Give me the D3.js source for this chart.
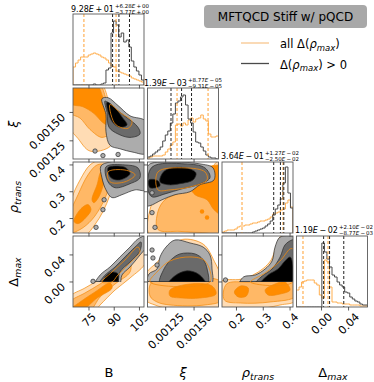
<!DOCTYPE html>
<html><head><meta charset="utf-8">
<style>body{margin:0;background:#fff}svg{display:block;font-family:"DejaVu Sans",sans-serif}</style>
</head><body>
<svg width="374" height="382"></svg>
<script src="https://cdn.jsdelivr.net/npm/d3@7"></script>
<script>
// ---- data ----
var params = ["B", "xi", "rho", "delta"];
var domains = {B: [65.5, 107.7], xi: [0.00109, 0.001715], rho: [0.146, 0.411], delta: [-0.037, 0.068]};
var tickVals = {B: [75, 90, 105], xi: [0.00125, 0.0015], rho: [0.2, 0.3, 0.4], delta: [0, 0.04]};
var tickFmt = {B: d3.format("d"), xi: d3.format(".5f"), rho: d3.format(".1f"), delta: d3.format(".2f")};

// median, +err, -err of the Delta>0 sample (shown as titles)
var titleVals = {B: [92.8, 6.28, 3.77], xi: [1.39e-3, 8.77e-5, 9.31e-5], rho: [0.364, 0.0127, 0.025], delta: [0.0119, 0.021, 0.00877]};
// quantile lines of the full sample
var qAll = {B: [72.0, 91.1], xi: [0.00135, 0.001623], rho: [0.2207, 0.3737], delta: [-0.0274, 0.0096]};

// histogram counts, 28 equal bins over each domain
var histAll = {
  B: [18,22,25,28,28,28,30,31,32,31,30,28,27,25,22,19,18,14,13,12,11,10,9,7,6,5,4,3],
  xi: [1,2,3,3,3,3,4,7,10,14,17,34,35,33,36,34,39,41,37,40,41,44,40,38,25,22,22,23],
  rho: [1,2,3,3,3,4,6,7,7,8,8,9,10,10,11,12,12,13,14,16,19,20,21,23,24,30,33,26],
  delta: [17,20,25,26,27,27,27,24,22,12,9,47,45,20,5,5,4,4,3,3,3,2,2,2,2,1,1,1]
};
var histPos = {
  B: [0,0,0,0,0,0,0,0,1,0,0,1,2,15,17,52,64,60,48,52,43,45,38,24,18,14,10,5],
  xi: [2,3,5,7,9,12,18,24,28,36,45,56,58,62,64,54,40,36,27,17,16,12,8,4,2,1,1,0],
  rho: [0,0,0,0,0,0,0,0,0,0,0,0,1,2,3,4,5,7,9,12,18,24,28,34,50,66,40,25],
  delta: [0,0,0,0,0,0,0,0,0,0,64,55,48,40,32,30,25,22,20,15,14,10,8,6,5,3,2,2]
};

// 2D contour levels (outer -> inner), vertices in data units
var allB_xi = [
  [[[63.7,0.00175],[82.1,0.00175],[86.3,0.00162],[89.3,0.00146],[89.9,0.00131],[87.5,0.00120],[75.6,0.00116],[68.5,0.00127],[63.7,0.00137]]],
  [[[63.7,0.00175],[80.9,0.00175],[85.1,0.00162],[88.1,0.00144],[87.5,0.00132],[82.7,0.00128],[75.6,0.00135],[69.7,0.00145],[63.7,0.00150]]],
  [[[63.7,0.00175],[79.2,0.00175],[83.3,0.00163],[86.9,0.00144],[87.5,0.00138],[83.3,0.00141],[78.0,0.00149],[71.4,0.00155],[63.7,0.00158]]]
];
var posB_xi = [
  [[[82.7,0.00162],[86.3,0.00163],[92.3,0.00156],[99.4,0.00147],[108.9,0.00142],[108.9,0.00114],[101.2,0.00115],[93.4,0.00118],[87.5,0.00121],[85.1,0.00133],[85.1,0.00148]]],
  [[[84.5,0.00160],[89.9,0.00154],[97.0,0.00146],[104.1,0.00137],[105.3,0.00131],[99.4,0.00128],[92.3,0.00131],[86.9,0.00137],[85.7,0.00150]]],
  [[[85.7,0.00159],[90.5,0.00154],[94.6,0.00146],[97.6,0.00139],[93.4,0.00137],[89.3,0.00141],[86.9,0.00148]]]
];
var lineB_xi = [[87.5,0.00157],[93.4,0.0015],[100.6,0.00142],[98.2,0.00136],[91.1,0.00139],[88.1,0.00148]];
var dotsB_xi = [[78.6,0.00116],[83.3,0.00112],[92.3,0.00113]];

var allB_rho = [
  [[[63.7,0.137],[72.6,0.137],[78.6,0.178],[83.3,0.226],[87.5,0.289],[89.9,0.352],[88.7,0.407],[81.6,0.418],[75.6,0.40],[69.7,0.344],[64.9,0.278],[63.7,0.233]]],
  [[[63.7,0.148],[69.7,0.159],[76.8,0.196],[82.7,0.252],[86.3,0.307],[87.5,0.363],[84.5,0.40],[79.8,0.40],[74.4,0.363],[68.5,0.289],[63.7,0.215]]],
  [[[66.1,0.189],[69.7,0.233],[74.4,0.252],[76.2,0.233],[73.2,0.204],[68.5,0.181]],
   [[76.8,0.270],[79.8,0.326],[82.1,0.374],[84.5,0.381],[83.9,0.337],[80.9,0.281],[77.9,0.259]]]
];
var posB_rho = [
  [[[82.1,0.396],[87.5,0.411],[108.9,0.418],[108.9,0.307],[102.4,0.307],[94.6,0.289],[88.7,0.278],[85.1,0.307],[82.7,0.352]]],
  [[[85.1,0.393],[96.4,0.40],[104.1,0.389],[105.3,0.352],[99.4,0.330],[90.5,0.315],[86.3,0.337]]],
  [[[86.3,0.389],[92.3,0.396],[97.0,0.389],[99.4,0.367],[93.4,0.344],[88.1,0.352]]]
];
var lineB_rho = [[86.3,0.374],[96.4,0.381],[102.4,0.363],[96.4,0.337],[87.5,0.337]];
var dotsB_rho = [[83.3,0.233],[79.2,0.167],[84.0,0.270]];

var allB_delta = [
  [[[63.7,-0.0414],[63.7,-0.022],[72.6,-0.0089],[81.6,0.0044],[90.5,0.0207],[99.4,0.0399],[108.9,0.0621],[108.9,0.0296],[99.4,0.0059],[90.5,-0.0119],[81.6,-0.034],[78.6,-0.0414]]],
  [[[63.7,-0.0414],[63.7,-0.0296],[72.6,-0.0163],[81.6,-0.0030],[90.5,0.0133],[99.4,0.0296],[99.4,0.0148],[90.5,-0.0030],[81.6,-0.0222],[75.6,-0.0414]]],
  [[[63.7,-0.0414],[69.7,-0.0296],[78.6,-0.0148],[87.5,-0.0015],[88.7,-0.0089],[79.8,-0.0237],[70.9,-0.0414]]]
];
var posB_delta = [
  [[[78.6,-0.004],[81.6,0.0103],[87.5,0.0222],[93.4,0.037],[99.4,0.0517],[104.1,0.0636],[108.9,0.068],[108.9,0.0517],[105.3,0.0399],[99.4,0.0222],[94.6,0.0103],[93.0,-0.004]]],
  [[[81.0,-0.004],[84.0,0.0088],[90.5,0.0222],[96.4,0.037],[102.4,0.0517],[105.9,0.0591],[105.3,0.0458],[99.4,0.0296],[93.4,0.0148],[91.5,-0.004]]],
  [[[83.0,-0.004],[85.1,0.0088],[88.7,0.0148],[92.3,0.0118],[91.3,-0.004]]]
];
var lineB_delta = [[82.7,0.0],[88.7,0.0148],[96.4,0.0325],[104.1,0.0517],[105.3,0.0443],[98.2,0.0251],[91.7,0.0088],[88.7,0.0]];
var dotsB_delta = [[77.4,0.001]];

var allXi_rho = [
  [[[0.001112,0.137],[0.001112,0.233],[0.001165,0.278],[0.001332,0.315],[0.001552,0.352],[0.001746,0.418],[0.001746,0.137]]],
  [[[0.001182,0.159],[0.001182,0.226],[0.001244,0.270],[0.001376,0.296],[0.001552,0.330],[0.001746,0.381],[0.001746,0.152],[0.001552,0.148],[0.001376,0.152]]],
  [[[0.001552,0.381],[0.00171,0.40],[0.001746,0.40],[0.001746,0.215],[0.001675,0.233],[0.001614,0.270],[0.001508,0.289],[0.001464,0.322],[0.001552,0.337]]]
];
var posXi_rho = [
  [[[0.001112,0.404],[0.001332,0.411],[0.001552,0.404],[0.001667,0.389],[0.001675,0.344],[0.001552,0.326],[0.001464,0.300],[0.001332,0.289],[0.001218,0.270],[0.001112,0.248],[0.001077,0.248],[0.001077,0.381]]],
  [[[0.00113,0.392],[0.00142,0.404],[0.001596,0.389],[0.00164,0.352],[0.001535,0.326],[0.001394,0.311],[0.001244,0.292],[0.00113,0.281],[0.001094,0.307]]],
  [[[0.00127,0.385],[0.001429,0.389],[0.001517,0.37],[0.001491,0.344],[0.001376,0.33],[0.00127,0.326],[0.0012,0.337],[0.001218,0.367]],
   [[0.001103,0.344],[0.001182,0.341],[0.0012,0.322],[0.001112,0.315]]]
];
var lineXi_rho = [[0.001182,0.374],[0.00142,0.389],[0.001596,0.374],[0.001614,0.344],[0.001464,0.318],[0.001288,0.307],[0.001182,0.307]];
var dotsXi_rho = [[0.00113,0.296],[0.00113,0.222],[0.001156,0.167]];
var spotsXi_rho = [[0.00157,0.226],[0.001614,0.204]];

var allXi_delta = [
  [[[0.001077,-0.0267],[0.001077,0.012],[0.00118,0.03],[0.00128,0.05],[0.0014,0.063],[0.00158,0.056],[0.00168,0.03],[0.001746,0.0029],[0.001746,-0.034],[0.001552,-0.040],[0.001288,-0.040],[0.001156,-0.034]]],
  [[[0.001112,-0.0207],[0.00113,0.0],[0.001746,0.0],[0.001746,-0.0267],[0.001596,-0.034],[0.001288,-0.034],[0.001174,-0.0296]]],
  [[[0.001288,-0.0119],[0.001464,-0.003],[0.001658,-0.0059],[0.001693,-0.0178],[0.001552,-0.0237],[0.001394,-0.0237],[0.001288,-0.0207]]]
];
var posXi_delta = [
  [[[0.001094,-0.004],[0.001103,0.0118],[0.001174,0.0192],[0.0012,0.037],[0.001253,0.0517],[0.001332,0.0621],[0.001464,0.0577],[0.001579,0.0517],[0.00164,0.0399],[0.001658,0.0192],[0.001649,-0.004]]],
  [[[0.0012,-0.004],[0.001235,0.0192],[0.001298,0.033],[0.001376,0.0415],[0.001508,0.0415],[0.00158,0.033],[0.001615,0.0192],[0.001615,-0.004]]],
  [[[0.00127,-0.004],[0.001335,0.0095],[0.001438,0.0165],[0.00154,0.0115],[0.001605,-0.004]]]
];
var lineXi_delta = [[0.001112,0.0],[0.001182,0.0163],[0.001288,0.0311],[0.001464,0.037],[0.001596,0.0311],[0.00164,0.0]];
var dotsXi_delta = [[0.001138,0.0355],[0.001174,0.0251],[0.00113,0.0473]];

var allRho_delta = [
  [[[0.140,-0.0414],[0.140,0.0],[0.215,0.004],[0.26,0.01],[0.30,0.02],[0.33,0.033],[0.35,0.055],[0.37,0.07],[0.422,0.07],[0.422,-0.0267],[0.363,-0.034],[0.252,-0.0414]]],
  [[[0.155,-0.0267],[0.163,-0.003],[0.252,0.0],[0.363,0.0029],[0.422,0.0059],[0.422,-0.0207],[0.326,-0.0296],[0.215,-0.0311]]],
  [[[0.192,-0.0148],[0.215,-0.0059],[0.244,-0.0089],[0.237,-0.0207],[0.207,-0.0222]],
   [[0.307,-0.0119],[0.344,-0.003],[0.381,0.0],[0.400,-0.0119],[0.363,-0.0178],[0.318,-0.0193]]]
];
var posRho_delta = [
  [[[0.212,-0.004],[0.226,0.0074],[0.270,0.0103],[0.307,0.0192],[0.333,0.0311],[0.344,0.0517],[0.363,0.0665],[0.411,0.068],[0.422,0.068],[0.422,-0.004]]],
  [[[0.268,-0.004],[0.296,0.0088],[0.333,0.0192],[0.363,0.037],[0.381,0.0547],[0.407,0.0621],[0.422,0.0621],[0.422,-0.004]]],
  [[[0.287,-0.004],[0.318,0.0103],[0.355,0.0192],[0.381,0.0311],[0.400,0.037],[0.411,0.0251],[0.413,-0.004]]]
];
var lineRho_delta = [[0.252,0.0],[0.307,0.0133],[0.363,0.0311],[0.400,0.0488],[0.411,0.0488],[0.411,0.0]];
var dotsRho_delta = [[0.159,0.003]];

var panels2d = [
  {r: 1, c: 0, all: allB_xi, pos: posB_xi, line: lineB_xi, dots: dotsB_xi},
  {r: 2, c: 0, all: allB_rho, pos: posB_rho, line: lineB_rho, dots: dotsB_rho},
  {r: 3, c: 0, all: allB_delta, pos: posB_delta, line: lineB_delta, dots: dotsB_delta},
  {r: 2, c: 1, all: allXi_rho, pos: posXi_rho, line: lineXi_rho, dots: dotsXi_rho, spots: spotsXi_rho},
  {r: 3, c: 1, all: allXi_delta, pos: posXi_delta, line: lineXi_delta, dots: dotsXi_delta},
  {r: 3, c: 2, all: allRho_delta, pos: posRho_delta, line: lineRho_delta, dots: dotsRho_delta}
];

// ---- layout ----
var svg = d3.select("svg");
var size = 71, colX = [73, 147.5, 222, 296.5], rowY = [14, 88, 162, 236];
var allFill = ["#ffdcb4", "#ffb866", "#ff8c00"], posFill = ["#acacac", "#6a6a6a", "#000000"];
var orange = "#f28a0c", histOrange = "#ffae4f", histGray = "#4a4a4a";

var x = {}, y = {};
params.forEach(function(p, i) {
  x[p] = d3.scaleLinear().domain(domains[p]).range([colX[i], colX[i] + size]);
  y[p] = d3.scaleLinear().domain(domains[p]).range([rowY[i] + size, rowY[i]]);
});

var defs = svg.append("defs");
function clipRect(id, x0, y0, w, h) {
  defs.append("clipPath").attr("id", id).append("rect")
    .attr("x", x0).attr("y", y0).attr("width", w).attr("height", h);
  return "url(#" + id + ")";
}
function clipFor(r, c) { return clipRect("clip" + r + c, colX[c], rowY[r], size, size); }

// ---- 2D panels ----
panels2d.forEach(function(pn) {
  var xs = x[params[pn.c]], ys = y[params[pn.r]];
  var line = d3.line().x(function(d) { return xs(d[0]); }).y(function(d) { return ys(d[1]); })
    .curve(d3.curveCatmullRomClosed.alpha(0.5));
  var g = svg.append("g").attr("clip-path", clipFor(pn.r, pn.c));
  pn.all.forEach(function(level, k) {
    level.forEach(function(poly) {
      g.append("path").attr("d", line(poly)).attr("fill", allFill[k])
        .attr("stroke", orange).attr("stroke-width", 0.7);
    });
  });
  (pn.spots || []).forEach(function(d) {
    g.append("circle").attr("cx", xs(d[0])).attr("cy", ys(d[1])).attr("r", 2.2).attr("fill", allFill[2]);
  });
  // the Delta>0 sample stops at Delta = 0
  var gp = g;
  if (params[pn.r] === "delta") {
    gp = g.append("g").attr("clip-path",
      clipRect("pos" + pn.r + pn.c, colX[pn.c], rowY[pn.r], size, ys(0) - rowY[pn.r]));
  }
  pn.pos.forEach(function(level, k) {
    level.forEach(function(poly) {
      gp.append("path").attr("d", line(poly)).attr("fill", posFill[k])
        .attr("stroke", "#2a2a2a").attr("stroke-width", 0.7);
    });
  });
  if (params[pn.r] === "delta") {
    gp.append("line").attr("x1", xs(pn.pos[0][0][0][0])).attr("x2", xs(pn.pos[0][0][pn.pos[0][0].length - 1][0]))
      .attr("y1", ys(0) - 0.4).attr("y2", ys(0) - 0.4).attr("stroke", "#2a2a2a").attr("stroke-width", 0.8);
  }
  g.append("path").attr("d", line(pn.line)).attr("fill", "none")
    .attr("stroke", orange).attr("stroke-width", 0.8);
  pn.dots.forEach(function(d) {
    g.append("circle").attr("cx", xs(d[0])).attr("cy", ys(d[1])).attr("r", 2.2)
      .attr("fill", posFill[0]).attr("stroke", "#2a2a2a").attr("stroke-width", 0.7);
  });
});

// ---- histograms ----
params.forEach(function(p, i) {
  var xs = x[p];
  var hy = d3.scaleLinear().domain([0, 71]).range([rowY[i] + size, rowY[i]]);
  var g = svg.append("g").attr("clip-path", clipFor(i, i));
  function step(counts) {
    var d0 = domains[p][0], w = (domains[p][1] - d0) / counts.length, pts = [[d0, 0]];
    counts.forEach(function(c, k) { pts.push([d0 + k * w, c]); pts.push([d0 + (k + 1) * w, c]); });
    pts.push([domains[p][1], 0]);
    return d3.line().x(function(d) { return xs(d[0]); }).y(function(d) { return hy(d[1]); })(pts);
  }
  g.append("path").attr("d", step(histAll[p])).attr("fill", "none").attr("stroke", histOrange).attr("stroke-width", 1);
  g.append("path").attr("d", step(histPos[p])).attr("fill", "none").attr("stroke", histGray).attr("stroke-width", 1);
  var tv = titleVals[p];
  qAll[p].forEach(function(q) {
    g.append("line").attr("x1", xs(q)).attr("x2", xs(q)).attr("y1", rowY[i]).attr("y2", rowY[i] + size)
      .attr("stroke", "#ffa033").attr("stroke-width", 1).attr("stroke-dasharray", "3,2");
  });
  [tv[0] - tv[2], tv[0], tv[0] + tv[1]].forEach(function(q) {
    g.append("line").attr("x1", xs(q)).attr("x2", xs(q)).attr("y1", rowY[i]).attr("y2", rowY[i] + size)
      .attr("stroke", "#222").attr("stroke-width", 1).attr("stroke-dasharray", "3,2");
  });
});

// ---- frames, ticks, tick labels ----
var fs = 11, capH = 8;
for (var r = 0; r < 4; r++) {
  for (var c = 0; c <= r; c++) {
    var px = params[c], py = params[r], bottom = rowY[r] + size, left = colX[c];
    svg.append("rect").attr("x", left).attr("y", rowY[r]).attr("width", size).attr("height", size)
      .attr("fill", "none").attr("stroke", "#5a5a5a").attr("stroke-width", 0.9);
    tickVals[px].forEach(function(t) {
      svg.append("line").attr("x1", x[px](t)).attr("x2", x[px](t)).attr("y1", bottom).attr("y2", bottom + 3.5)
        .attr("stroke", "#333").attr("stroke-width", 0.8);
      if (r === 3) {
        var lab = svg.append("text").attr("font-size", fs).attr("text-anchor", "end").text(tickFmt[px](t));
        var L = lab.node().getComputedTextLength();
        var ax = x[px](t) + 0.354 * (L + capH), ay = 312 + 0.707 * capH;
        lab.attr("transform", "translate(" + ax + "," + ay + ") rotate(-45)");
      }
    });
    if (c < r) {
      tickVals[py].forEach(function(t) {
        svg.append("line").attr("x1", left - 3.5).attr("x2", left).attr("y1", y[py](t)).attr("y2", y[py](t))
          .attr("stroke", "#333").attr("stroke-width", 0.8);
        if (c === 0) {
          var ay = y[py](t) + 0.707 * capH;
          svg.append("text").attr("font-size", fs).attr("text-anchor", "end")
            .attr("transform", "translate(66," + ay + ") rotate(-45)").text(tickFmt[py](t));
        }
      });
    }
  }
}

// ---- titles over histograms ----
function sci(v) {
  var e = Math.floor(Math.log10(Math.abs(v)));
  var m = (v / Math.pow(10, e)).toFixed(2);
  return [m, e < 0 ? "\u2212" : "+", String(Math.abs(e)).padStart(2, "0")];
}
function sciSpans(t, v, lead) {
  var s = sci(v);
  t.append("tspan").text(lead + s[0]);
  t.append("tspan").attr("font-style", "italic").text("E");
  t.append("tspan").text("\u2009" + s[1] + "\u2009" + s[2]);
}
var titlePos = {B: [71, 12], xi: [144, 85.5], rho: [221, 159], delta: [295, 233]};
params.forEach(function(p) {
  var tp = titlePos[p], tv = titleVals[p];
  var t = svg.append("text").attr("x", tp[0]).attr("y", tp[1]).attr("font-size", 8);
  sciSpans(t, tv[0], "");
  var ex = tp[0] + t.node().getComputedTextLength() + 1;
  sciSpans(svg.append("text").attr("x", ex).attr("y", tp[1] - 4).attr("font-size", 5.5), tv[1], "+");
  sciSpans(svg.append("text").attr("x", ex).attr("y", tp[1] + 2).attr("font-size", 5.5), tv[2], "\u2212");
});

// ---- axis labels ----
function label(t, main, sub, italicMain) {
  t.append("tspan").attr("font-style", italicMain ? "italic" : null).text(main);
  if (sub) t.append("tspan").attr("font-style", "italic").attr("font-size", "0.72em").attr("dy", 3).text(sub);
}
var axLab = [["B", null, false], ["\u03be", null, true], ["\u03c1", "trans", true], ["\u0394", "max", false]];
var xLabX = [109, 183, 258, 333];
axLab.forEach(function(a, i) {
  var t = svg.append("text").attr("x", xLabX[i]).attr("y", 377).attr("font-size", 13).attr("text-anchor", "middle");
  label(t, a[0], a[1], a[2]);
});
var yLabY = [null, 124, 197, 272];
[1, 2, 3].forEach(function(i) {
  var a = axLab[i];
  var t = svg.append("text").attr("font-size", 13).attr("text-anchor", "middle")
    .attr("transform", "translate(18," + yLabY[i] + ") rotate(-90)");
  label(t, a[0], a[1], a[2]);
});

// ---- legend ----
svg.append("rect").attr("x", 204).attr("y", 5).attr("width", 163).attr("height", 23).attr("rx", 4)
  .attr("fill", "#a8a8a8");
svg.append("text").attr("x", 285.5).attr("y", 21).attr("font-size", 12).attr("text-anchor", "middle")
  .text("MFTQCD Stiff w/ pQCD");
var legend = [{color: "#f7c68e", pre: "all ", post: ""}, {color: "#4a4a4a", pre: "", post: " > 0"}];
legend.forEach(function(l, k) {
  var ly = 43 + k * 20.5;
  svg.append("line").attr("x1", 241).attr("x2", 269).attr("y1", ly).attr("y2", ly)
    .attr("stroke", l.color).attr("stroke-width", 1.3);
  var t = svg.append("text").attr("x", 280).attr("y", ly + 5).attr("font-size", 11.5);
  t.append("tspan").text(l.pre + "\u0394(");
  t.append("tspan").attr("font-style", "italic").text("\u03c1");
  t.append("tspan").attr("font-style", "italic").attr("font-size", 8.5).attr("dy", 2.5).text("max");
  t.append("tspan").attr("dy", -2.5).text(")" + l.post);
});
</script>
</body></html>
